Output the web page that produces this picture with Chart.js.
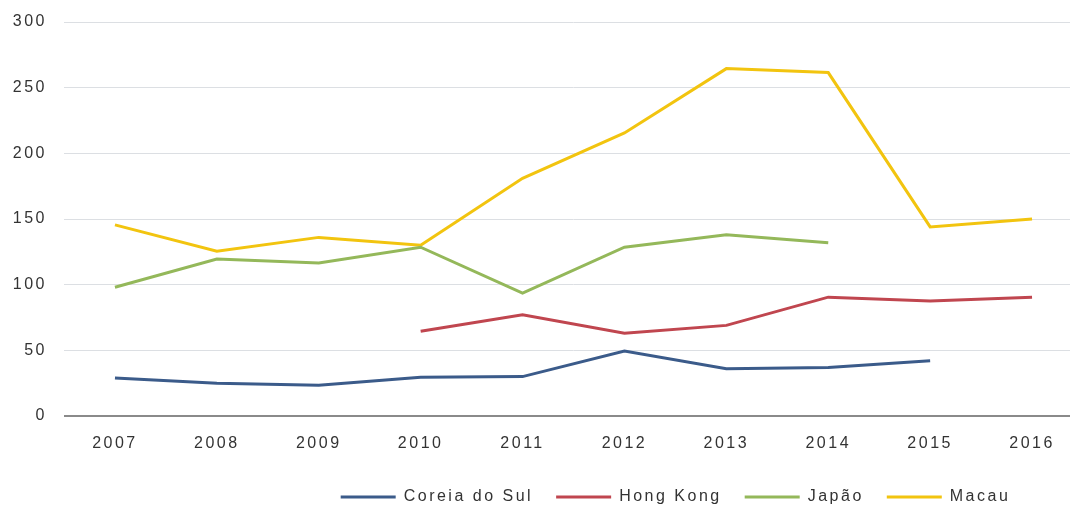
<!DOCTYPE html>
<html>
<head>
<meta charset="utf-8">
<script src="https://cdn.jsdelivr.net/npm/chart.js@4"></script>
<style>
    html, body { margin: 0; padding: 0; background: #fff; overflow: hidden; }
    #wrap { width: 1083px; height: 507px; }
</style>
</head>
<body>
<div id="wrap"><canvas id="chart"></canvas></div>
<script>
// Data
const years = ['2007', '2008', '2009', '2010', '2011', '2012', '2013', '2014', '2015', '2016'];
const coreiaDoSul = [29, 25, 23.5, 29.5, 30, 49.5, 36, 37, 42, null];
const hongKong = [null, null, null, 64.5, 77, 63, 69, 90.5, 87.5, 90.5];
const japao = [98, 119.5, 116.5, 128.5, 93.5, 128.5, 138, 132, null, null];
const macau = [145.5, 125.5, 136, 130, 181, 215.5, 264.5, 261.5, 144, 150];
const yTicks = [0, 50, 100, 150, 200, 250, 300];

const textColor = '#333333';

// wider glyph spacing, like the stretched original
const spacingPlugin = {
    id: 'spacing',
    beforeUpdate(chart) { chart.ctx.letterSpacing = '2.5px'; },
    beforeDraw(chart) { chart.ctx.letterSpacing = '2.5px'; },
    afterLayout(chart) {
        // legend sits right of centre in the original
        const lg = chart.legend;
        const dx = 134, dy = 8;
        lg.left += dx; lg.right += dx;
        lg.top += dy; lg.bottom += dy;
    }
};

function line(label, data, color) {
    return {
        label, data,
        borderColor: color,
        backgroundColor: color,
        borderWidth: 3,
        pointRadius: 0,
        pointHoverRadius: 0,
        pointStyle: 'line',
        tension: 0,
        spanGaps: false
    };
}

new Chart(document.getElementById('chart'), {
    type: 'line',
    data: {
        labels: years,
        datasets: [
            line('Coreia do Sul', coreiaDoSul, '#3b5b8a'),
            line('Hong Kong', hongKong, '#c0464f'),
            line('Japão', japao, '#94b85a'),
            line('Macau', macau, '#f2c40f')
        ]
    },
    plugins: [spacingPlugin],
    options: {
        responsive: true,
        maintainAspectRatio: false,
        animation: false,
        layout: { padding: { top: 22, left: 0, right: 0, bottom: 0 } },
        plugins: {
            tooltip: { enabled: false },
            legend: {
                position: 'bottom',
                labels: {
                    usePointStyle: true,
                    pointStyle: 'line',
                    pointStyleWidth: 55,
                    padding: 23,
                    color: textColor,
                    font: { family: 'Liberation Sans, Arial', size: 16 }
                }
            }
        },
        scales: {
            x: {
                offset: true,
                grid: { display: false },
                border: { display: false },
                ticks: {
                    color: textColor,
                    padding: 10,
                    maxRotation: 0,
                    font: { family: 'Liberation Sans, Arial', size: 16 }
                },
                afterFit(scale) { scale.height = 42; }
            },
            y: {
                min: 0,
                max: 300,
                afterBuildTicks(scale) { scale.ticks = yTicks.map(v => ({ value: v })); },
                border: { display: false },
                grid: {
                    drawTicks: false,
                    color: ctx => ctx.tick && ctx.tick.value === 0 ? '#8a8a8a' : '#dcdfe3',
                    lineWidth: ctx => ctx.tick && ctx.tick.value === 0 ? 2 : 1
                },
                ticks: {
                    color: textColor,
                    padding: 17,
                    font: { family: 'Liberation Sans, Arial', size: 16 }
                },
                afterFit(scale) {
                    scale.width = 64;
                    scale.paddingTop = 10;
                    scale.paddingBottom = 10;
                }
            }
        }
    }
});
</script>
</body>
</html>
